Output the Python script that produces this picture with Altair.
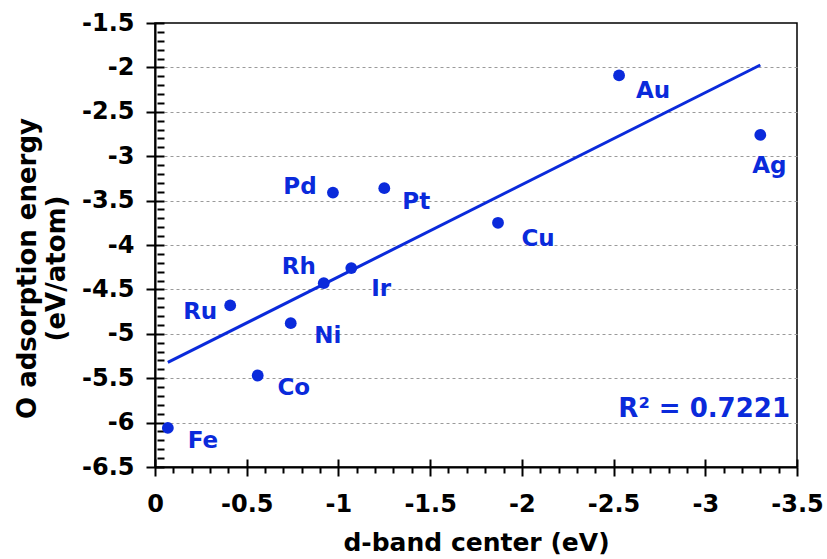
import altair as alt
import pandas as pd

# ---- data ----
metals = ["Fe", "Ru", "Co", "Ni", "Rh", "Ir", "Pd", "Pt", "Cu", "Au", "Ag"]
d_band_center = [-0.07, -0.41, -0.56, -0.74, -0.92, -1.07, -0.97, -1.25, -1.87, -2.53, -3.30]
o_adsorption = [-6.06, -4.68, -5.47, -4.88, -4.43, -4.26, -3.41, -3.36, -3.75, -2.09, -2.76]

x_ticks_major = [0, -0.5, -1, -1.5, -2, -2.5, -3, -3.5]
y_ticks_major = [-1.5, -2, -2.5, -3, -3.5, -4, -4.5, -5, -5.5, -6, -6.5]
x_ticks_minor = [round(-0.1 * i, 1) for i in range(36)]
y_ticks_minor = [round(-1.5 - 0.1 * i, 1) for i in range(51)]
r2_text = "R² = 0.7221"
x_title = "d-band center (eV)"
y_title = ["O adsorption energy", "(eV/atom)"]

# label placement (pixel offsets from each point) - styling only
label_offsets = {
    "Fe": (35, 13), "Ru": (-30, 7), "Co": (36, 12), "Ni": (37, 13),
    "Rh": (-25, -16), "Ir": (30, 21), "Pd": (-33, -6), "Pt": (32, 14),
    "Cu": (40, 16), "Au": (34, 16), "Ag": (9, 31),
}

BLUE = "#0A2ADB"
FONT = "DejaVu Sans"

df = pd.DataFrame({"metal": metals, "d": d_band_center, "e": o_adsorption})

x_scale = alt.Scale(domain=[-3.5, 0], reverse=True, nice=False, zero=False)
y_scale = alt.Scale(domain=[-6.5, -1.5], nice=False, zero=False)

major_test = "abs(datum.value * 2 - round(datum.value * 2)) < 0.001"
num_label = "datum.value == 0 ? '0' : '-' + format(abs(datum.value), '~g')"

x_axis = alt.Axis(
    values=x_ticks_minor,
    labelExpr=f"({major_test}) ? ({num_label}) : ''",
    tickSize={"condition": {"test": major_test, "value": 9}, "value": 6},
    labelPadding=16, labelFlush=False, labelOverlap=False,
    grid=False, title=x_title, titlePadding=14, titleFontSize=25,
)
y_axis = alt.Axis(
    values=y_ticks_major,
    labelExpr=num_label,
    tickSize=9, labelPadding=12, labelFlush=False, labelOverlap=False,
    grid=True, gridDash=[3, 3], gridColor="#9a9a9a", gridWidth=1,
    gridOpacity={"condition": {"test": "datum.value == -1.5 || datum.value == -6.5", "value": 0}, "value": 1},
    title=y_title, titleFontSize=26, titleLineHeight=29, titlePadding=12, titleY=245,
)

x_enc = alt.X("d:Q", scale=x_scale, axis=x_axis)
y_enc = alt.Y("e:Q", scale=y_scale, axis=y_axis)

base = alt.Chart(df)

points = base.mark_circle(size=140, color=BLUE, opacity=1).encode(x=x_enc, y=y_enc)
fit = base.transform_regression("d", "e").mark_line(color=BLUE, strokeWidth=3).encode(x=x_enc, y=y_enc)

labels = []
for m, (dx, dy) in label_offsets.items():
    labels.append(
        base.transform_filter(alt.datum.metal == m)
        .mark_text(dx=dx, dy=dy, font=FONT, fontSize=23, fontWeight="bold", color=BLUE,
                   align="center", baseline="middle")
        .encode(x=x_enc, y=y_enc, text="metal:N")
    )

r2 = alt.Chart(pd.DataFrame({"t": [r2_text]})).mark_text(
    font=FONT, fontSize=26, fontWeight="bold", color=BLUE, align="right", baseline="alphabetic"
).encode(x=alt.value(635), y=alt.value(394), text="t:N")

main = alt.layer(fit, points, *labels, r2)

# inner tick marks (second, overlapping axes pushed inside the plot)
inner = base.mark_point(opacity=0).encode(
    x=alt.X("d:Q", scale=x_scale, axis=alt.Axis(
        orient="bottom", values=x_ticks_major, offset=-8, tickSize=8,
        labels=False, domain=False, grid=False, title=None)),
    y=alt.Y("e:Q", scale=y_scale, axis=alt.Axis(
        orient="left", values=y_ticks_minor, offset=-9,
        tickSize={"condition": {"test": major_test, "value": 9}, "value": 7},
        labels=False, domain=False, grid=False, title=None)),
)

chart = alt.layer(main, inner).resolve_scale(x="independent", y="independent").properties(
    width=642, height=444,
    autosize=alt.AutoSizeParams(type="none"),
    padding={"left": 155, "top": 23, "right": 30, "bottom": 92},
).configure_view(stroke="black", strokeWidth=1.5).configure_axis(
    labelFont=FONT, titleFont=FONT, labelFontSize=24, labelFontWeight="bold",
    titleFontWeight="bold", labelColor="black", titleColor="black",
    domainColor="black", domainWidth=2, tickColor="black", tickWidth=2,
)

chart.save("out.html", embed_options={"renderer": "svg", "actions": False})
